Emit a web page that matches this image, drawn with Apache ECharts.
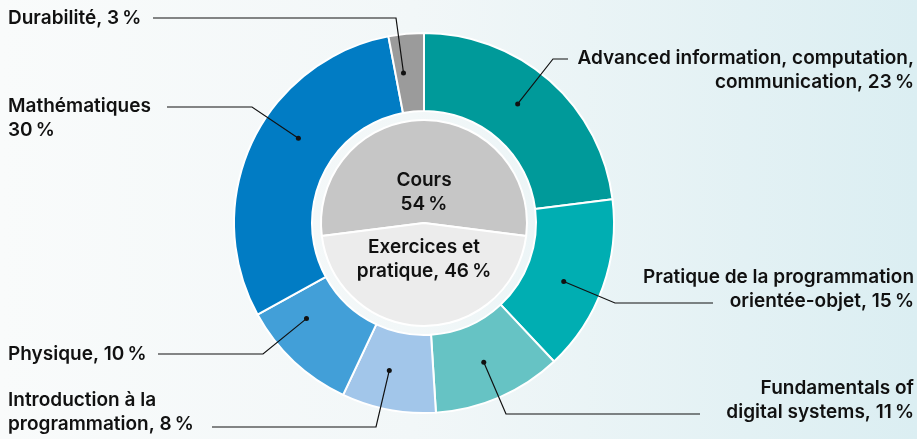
<!DOCTYPE html>
<html><head><meta charset="utf-8">
<script src="https://cdn.jsdelivr.net/npm/echarts@6/dist/echarts.min.js"></script>
<style>
html,body{margin:0;padding:0;}
#c{width:917px;height:439px;background:linear-gradient(90deg,#f9fbfb 0%,#f2f7f8 45%,#dbeef2 100%);}
</style>
</head><body><div id="c"></div>
<script>
// ---- data ----
const subjects = ['Advanced information, computation,\ncommunication', 'Pratique de la programmation\norientée-objet', 'Fundamentals of\ndigital systems', 'Introduction à la\nprogrammation', 'Physique', 'Mathématiques', 'Durabilité'];
const subjectShares = [23, 15, 11, 8, 10, 30, 3];
const subjectSeparators = [', ', ', ', ', ', ', ', ', ', '\n', ', '];
const formats = ['Cours', 'Exercices et\npratique'];
const formatShares = [54, 46];
const formatSeparators = ['\n', ', '];

// ---- style ----
const ringColors = ['#009a9a', '#00aeb2', '#66c3c4', '#a2c6ea', '#429fd8', '#017cc4', '#9b9b9b'];
const innerColors = ['#c6c6c6', '#ececec'];
const anchors = [
  {side:'right', ty:70,  ly:59,  bx:553, ex:568},
  {side:'right', ty:289, ly:303, bx:615, ex:713},
  {side:'right', ty:400, ly:414, bx:506, ex:700},
  {side:'left',  ty:412, ly:427, bx:376, ex:212},
  {side:'left',  ty:354, ly:354, bx:263, ex:158},
  {side:'left',  ty:118, ly:107, bx:252, ex:167},
  {side:'left',  ty:18,  ly:18,  bx:396, ex:153}
];
const FONT = 'Inter, "Noto Sans", sans-serif';
const FS = 19;
const FW = 600;
const CENTER = [424, 223];
const R_IN = 112, R_OUT = 190, R_DOT = 151;
const PCT = '\u202f%';

const chart = echarts.init(document.getElementById('c'), null, {renderer:'canvas'});

const ringData = subjects.map((n, i) => ({name: n, value: subjectShares[i], itemStyle:{color: ringColors[i]}}));
const ghostData = subjects.map((n, i) => ({name: n, value: subjectShares[i]}));
const innerData = formats.map((n, i) => ({name: n, value: formatShares[i], itemStyle:{color: innerColors[i]}}));
const innerSum = formatShares.reduce((a, b) => a + b, 0);

function dotOf(i) {
  const a = anchors[i];
  const dx = a.bx - CENTER[0], dy = a.ly - CENTER[1];
  const d = Math.sqrt(dx * dx + dy * dy);
  return [CENTER[0] + dx / d * (R_DOT + 0.5), CENTER[1] + dy / d * (R_DOT + 0.5)];
}

chart.setOption({
  animation: false,
  series: [
    {
      type: 'pie', center: CENTER, radius: [R_IN, R_OUT], startAngle: 90, clockwise: true, silent: true,
      itemStyle: {borderColor: '#ffffff', borderWidth: 2},
      data: ringData,
      label: {show: false}, labelLine: {show: false}
    },
    {
      type: 'pie', center: CENTER, radius: [R_DOT - 0.5, R_DOT + 0.5], startAngle: 90, clockwise: true,
      avoidLabelOverlap: false, silent: true, z: 4,
      itemStyle: {color: 'rgba(0,0,0,0)', borderWidth: 0},
      data: ghostData,
      label: {
        show: true, position: 'outside', color: '#111111', fontFamily: FONT, fontSize: FS, fontWeight: FW, lineHeight: 24,
        formatter: p => p.name + subjectSeparators[p.dataIndex] + p.value + PCT
      },
      labelLine: {show: true, smooth: false, lineStyle: {color: '#111111', width: 1.2}},
      labelLayout: p => {
        const a = anchors[p.dataIndex];
        return {
          x: a.side === 'left' ? 8 : 914, y: a.ty, align: a.side, verticalAlign: 'middle',
          labelLinePoints: [dotOf(p.dataIndex), [a.bx, a.ly], [a.ex, a.ly]]
        };
      }
    },
    {
      type: 'pie', center: CENTER, radius: [R_IN, R_OUT], startAngle: 90, clockwise: true, silent: true, z: 5,
      itemStyle: {color: 'rgba(0,0,0,0)', borderWidth: 0},
      data: subjects.map((n, i) => ({name: n + ' ', value: subjectShares[i]})),
      label: {show: true, position: 'inside', formatter: '{d| }',
        rich: {d: {width: 5, height: 5, borderRadius: 2.5, backgroundColor: '#111111', fontSize: 1, lineHeight: 5}}},
      labelLine: {show: false},
      labelLayout: p => {
        const d = dotOf(p.dataIndex);
        return {x: d[0], y: d[1], align: 'center', verticalAlign: 'middle'};
      }
    },
    {
      type: 'pie', center: CENTER, radius: [0, 103], startAngle: 90 + 180 * formatShares[0] / innerSum, clockwise: true,
      silent: true, avoidLabelOverlap: false,
      itemStyle: {borderColor: '#ffffff', borderWidth: 2},
      data: innerData,
      label: {
        show: true, position: 'inside', color: '#111111', fontFamily: FONT, fontSize: FS, fontWeight: FW, lineHeight: 24,
        align: 'center',
        formatter: p => p.name + formatSeparators[p.dataIndex] + p.value + PCT
      },
      labelLayout: p => ({dy: p.dataIndex === 0 ? 24 : -18})
    }
  ]
});
</script>
</body></html>
